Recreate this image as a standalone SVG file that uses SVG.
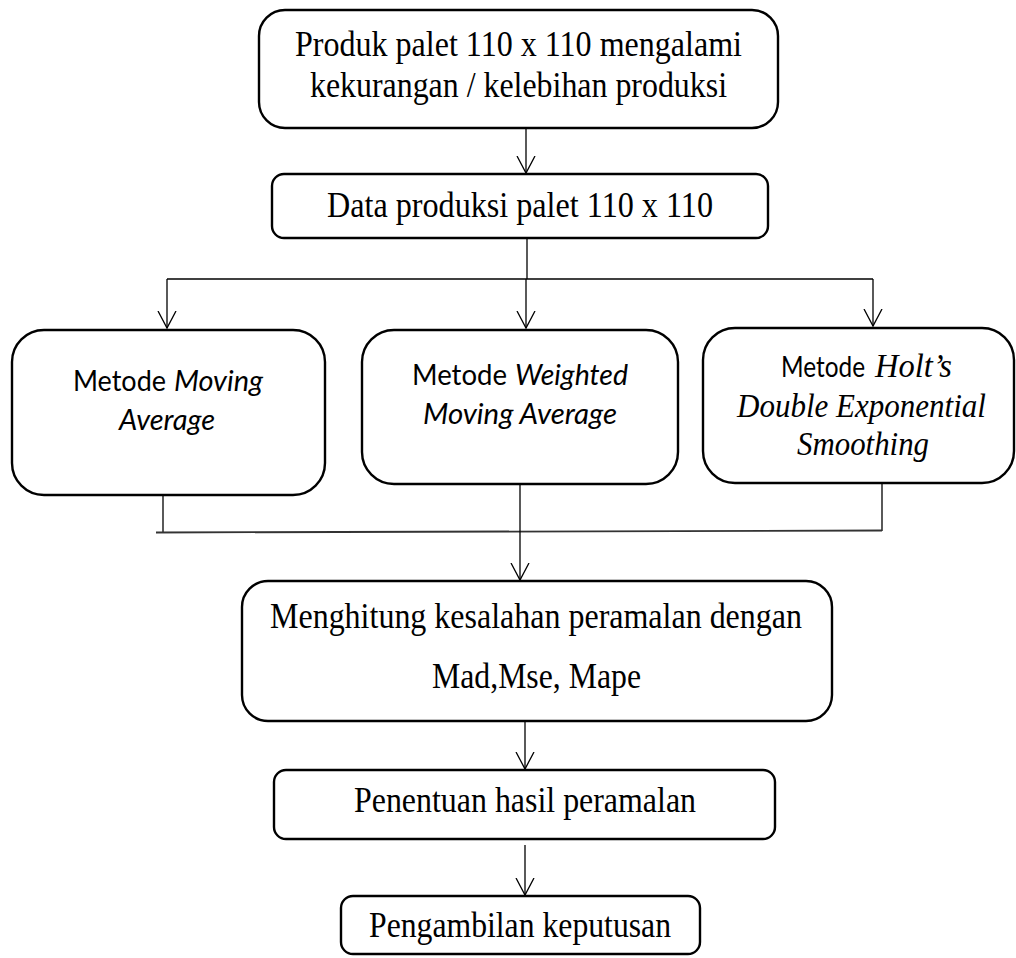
<svg xmlns="http://www.w3.org/2000/svg" width="1016" height="958" viewBox="0 0 1016 958">
<defs>
<style>
.box{fill:#fff;stroke:#000;stroke-width:2.4}
.ln{fill:none;stroke:#000;stroke-width:1.3}
.ln2{fill:none;stroke:#333;stroke-width:1.8}
.tm{font-family:"Liberation Serif","Times New Roman",serif;font-size:35px;fill:#000}
.ti{font-family:"Liberation Serif","Times New Roman",serif;font-size:34px;font-style:italic;fill:#000}
.sf{font-family:Lato,"Open Sans",sans-serif;font-size:28px;fill:#000}
.it{font-style:italic}
</style>
<marker id="arr" viewBox="0 0 20 20" refX="17" refY="10" markerWidth="20" markerHeight="20" markerUnits="userSpaceOnUse" orient="auto">
<path d="M0,1 L17,10 L0,19" fill="none" stroke="#000" stroke-width="1.3"/>
</marker>
</defs>
<rect width="1016" height="958" fill="#fff"/>
<g id="connectors">
<line class="ln" x1="526" y1="128" x2="526" y2="173" marker-end="url(#arr)"/>
<line class="ln" x1="527" y1="238" x2="527" y2="279"/>
<line class="ln" x1="167" y1="279" x2="873" y2="279"/>
<line class="ln" x1="167" y1="279" x2="167" y2="328" marker-end="url(#arr)"/>
<line class="ln" x1="526" y1="279" x2="526" y2="328" marker-end="url(#arr)"/>
<line class="ln" x1="873" y1="279" x2="873" y2="326" marker-end="url(#arr)"/>
<line class="ln" x1="163" y1="495" x2="163" y2="532"/>
<line class="ln" x1="882" y1="483" x2="882" y2="531"/>
<line class="ln2" x1="156" y1="532.5" x2="882" y2="530.5"/>
<line class="ln" x1="520" y1="482" x2="520" y2="580" marker-end="url(#arr)"/>
<line class="ln" x1="525" y1="721" x2="525" y2="769" marker-end="url(#arr)"/>
<line class="ln" x1="525" y1="845" x2="525" y2="895" marker-end="url(#arr)"/>
</g>
<g id="n1">
<rect class="box" x="259" y="10" width="519" height="118" rx="26"/>
<text class="tm" x="295" y="56" textLength="447" lengthAdjust="spacingAndGlyphs">Produk palet 110 x 110 mengalami</text>
<text class="tm" x="310" y="97" textLength="417" lengthAdjust="spacingAndGlyphs">kekurangan / kelebihan produksi</text>
</g>
<g id="n2">
<rect class="box" x="272" y="174" width="496" height="64" rx="12"/>
<text class="tm" x="327" y="217" textLength="386" lengthAdjust="spacingAndGlyphs">Data produksi palet 110 x 110</text>
</g>
<g id="n3">
<rect class="box" x="12" y="330" width="313" height="165" rx="32"/>
<text class="sf" x="73" y="391" textLength="93" lengthAdjust="spacingAndGlyphs">Metode</text>
<text class="sf it" x="174" y="391" textLength="89" lengthAdjust="spacingAndGlyphs">Moving</text>
<text class="sf it" x="119" y="430" textLength="96" lengthAdjust="spacingAndGlyphs">Average</text>
</g>
<g id="n4">
<rect class="box" x="362" y="330" width="316" height="154" rx="32"/>
<text class="sf" x="412" y="385" textLength="95" lengthAdjust="spacingAndGlyphs">Metode</text>
<text class="sf it" x="515" y="385" textLength="113" lengthAdjust="spacingAndGlyphs">Weighted</text>
<text class="sf it" x="423" y="424" textLength="194" lengthAdjust="spacingAndGlyphs">Moving Average</text>
</g>
<g id="n5">
<rect class="box" x="703" y="328" width="311" height="155" rx="32"/>
<text class="sf" x="781" y="377" textLength="84" lengthAdjust="spacingAndGlyphs">Metode</text>
<text class="ti" x="875" y="377" textLength="77" lengthAdjust="spacingAndGlyphs">Holt’s</text>
<text class="ti" x="737" y="417" textLength="249" lengthAdjust="spacingAndGlyphs">Double Exponential</text>
<text class="ti" x="797" y="455" textLength="132" lengthAdjust="spacingAndGlyphs">Smoothing</text>
</g>
<g id="n6">
<rect class="box" x="242" y="581" width="590" height="140" rx="26"/>
<text class="tm" x="270" y="628" textLength="532" lengthAdjust="spacingAndGlyphs">Menghitung kesalahan peramalan dengan</text>
<text class="tm" x="432" y="688" textLength="209" lengthAdjust="spacingAndGlyphs">Mad,Mse, Mape</text>
</g>
<g id="n7">
<rect class="box" x="274" y="770" width="501" height="69" rx="12"/>
<text class="tm" x="354" y="812" textLength="342" lengthAdjust="spacingAndGlyphs">Penentuan hasil peramalan</text>
</g>
<g id="n8">
<rect class="box" x="341" y="896" width="359" height="58" rx="12"/>
<text class="tm" x="369" y="937" textLength="302" lengthAdjust="spacingAndGlyphs">Pengambilan keputusan</text>
</g>
</svg>
